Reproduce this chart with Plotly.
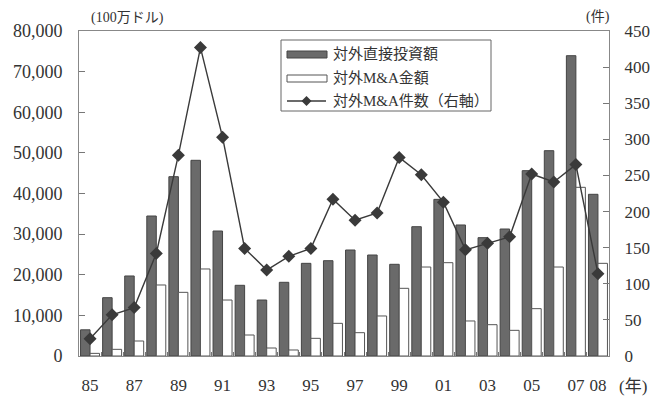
import plotly.graph_objects as go

# 年（1985〜2008）
years = ["85", "86", "87", "88", "89", "90", "91", "92", "93", "94", "95", "96",
         "97", "98", "99", "00", "01", "02", "03", "04", "05", "06", "07", "08"]
year_labels = ["85", "", "87", "", "89", "", "91", "", "93", "", "95", "",
               "97", "", "99", "", "01", "", "03", "", "05", "", "07", "08"]

# 対外直接投資額（100万ドル）
fdi = [6450, 14350, 19700, 34460, 44140, 48170, 30770, 17400, 13780, 18140, 22810, 23460,
       26090, 24860, 22570, 31830, 38560, 32250, 29130, 31260, 45620, 50540, 73920, 39800]
# 対外M&A金額（100万ドル）
mna_amount = [650, 1640, 3690, 17480, 15670, 21420, 13780, 5170, 1970, 1480, 4350, 8040,
              5740, 9850, 16660, 21900, 22970, 8620, 7710, 6320, 11650, 21900, 41520, 22810]
# 対外M&A件数（件、右軸）
mna_count = [24, 57, 67, 142, 278, 427, 303, 149, 119, 138, 149, 217,
             188, 198, 275, 251, 213, 147, 156, 165, 252, 241, 265, 114]

FONT = "Liberation Serif, Noto Sans CJK JP, serif"
TXT = "#333333"
W, H = 651, 396
L, R, T, B = 79, 42, 31, 40
PW, PH = W - L - R, H - T - B


def px(x):
    return (x - L) / PW


def py(y):
    return (H - B - y) / PH


fig = go.Figure()
fig.add_trace(go.Bar(
    x=years, y=fdi, name="対外直接投資額",
    marker=dict(color="#6a6a6a", line=dict(color="#444444", width=1)),
    yaxis="y", showlegend=False,
))
fig.add_trace(go.Bar(
    x=years, y=mna_amount, name="対外M&A金額",
    marker=dict(color="white", line=dict(color="#555555", width=1)),
    yaxis="y", showlegend=False,
))
fig.add_trace(go.Scatter(
    x=years, y=mna_count, name="対外M&A件数（右軸）", mode="lines+markers",
    line=dict(color="#3a3a3a", width=1.4),
    marker=dict(symbol="diamond", size=10, color="#3a3a3a"),
    yaxis="y2", showlegend=False,
))

shapes = []
annotations = []

# 凡例の枠
shapes.append(dict(type="rect", xref="paper", yref="paper",
                   x0=px(281), x1=px(491), y0=py(111), y1=py(40),
                   line=dict(color="#666666", width=1), fillcolor="white", layer="above"))
# 凡例の記号
shapes.append(dict(type="rect", xref="paper", yref="paper",
                   x0=px(287), x1=px(327), y0=py(58), y1=py(51),
                   line=dict(color="#444444", width=1), fillcolor="#6a6a6a", layer="above"))
shapes.append(dict(type="rect", xref="paper", yref="paper",
                   x0=px(287), x1=px(327), y0=py(82), y1=py(75),
                   line=dict(color="#555555", width=1), fillcolor="white", layer="above"))
shapes.append(dict(type="line", xref="paper", yref="paper",
                   x0=px(287), x1=px(326), y0=py(101), y1=py(101),
                   line=dict(color="#3a3a3a", width=1.4), layer="above"))
cx, cy, d = 306.5, 101, 5
shapes.append(dict(type="path", xref="paper", yref="paper",
                   path=f"M {px(cx - d)},{py(cy)} L {px(cx)},{py(cy - d)} "
                        f"L {px(cx + d)},{py(cy)} L {px(cx)},{py(cy + d)} Z",
                   line=dict(color="#3a3a3a", width=0), fillcolor="#3a3a3a", layer="above"))

for label, yy in [("対外直接投資額", 54), ("対外M&A金額", 78), ("対外M&A件数（右軸）", 101)]:
    annotations.append(dict(text=label, xref="paper", yref="paper", x=px(331), y=py(yy),
                            xanchor="left", yanchor="middle", showarrow=False,
                            font=dict(family=FONT, size=15, color=TXT)))

# 単位
annotations.append(dict(text="(100万ドル)", xref="paper", yref="paper", x=px(89), y=py(18),
                        xanchor="left", yanchor="middle", showarrow=False,
                        font=dict(family=FONT, size=14, color=TXT)))
annotations.append(dict(text="(件)", xref="paper", yref="paper", x=px(612), y=py(17),
                        xanchor="right", yanchor="middle", showarrow=False,
                        font=dict(family=FONT, size=14, color=TXT)))
annotations.append(dict(text="(年)", xref="paper", yref="paper", x=px(649), y=py(386),
                        xanchor="right", yanchor="middle", showarrow=False,
                        font=dict(family=FONT, size=17, color=TXT)))

fig.update_layout(
    width=W, height=H,
    margin=dict(l=L, r=R, t=T, b=B, autoexpand=False),
    paper_bgcolor="white", plot_bgcolor="white",
    barmode="group", bargap=0.14, bargroupgap=0.0,
    font=dict(family=FONT, color=TXT),
    shapes=shapes, annotations=annotations,
    xaxis=dict(
        type="category", tickmode="array", tickvals=years, ticktext=year_labels,
        range=[-0.5, len(years) - 0.5],
        tickson="boundaries", ticks="inside", ticklen=4, tickcolor="#777777",
        showline=True, linecolor="#888888", linewidth=1, mirror=True,
        showgrid=False, tickfont=dict(family=FONT, size=17, color=TXT),
        tickangle=0, automargin=False, ticklabelstandoff=14,
    ),
    yaxis=dict(
        range=[0, 80000], dtick=10000, tickformat=",", ticks="inside", ticklen=6,
        tickcolor="#777777", showline=True, linecolor="#888888", linewidth=1,
        showgrid=False, zeroline=False, tickfont=dict(family=FONT, size=18, color=TXT),
        automargin=False, ticklabelstandoff=12,
    ),
    yaxis2=dict(
        range=[0, 450], dtick=50, overlaying="y", side="right", ticks="inside", ticklen=6,
        tickcolor="#777777", showline=True, linecolor="#888888", linewidth=1,
        showgrid=False, zeroline=False, tickfont=dict(family=FONT, size=17, color=TXT),
        automargin=False, ticklabelstandoff=11,
    ),
)

fig.write_html("out.html")
